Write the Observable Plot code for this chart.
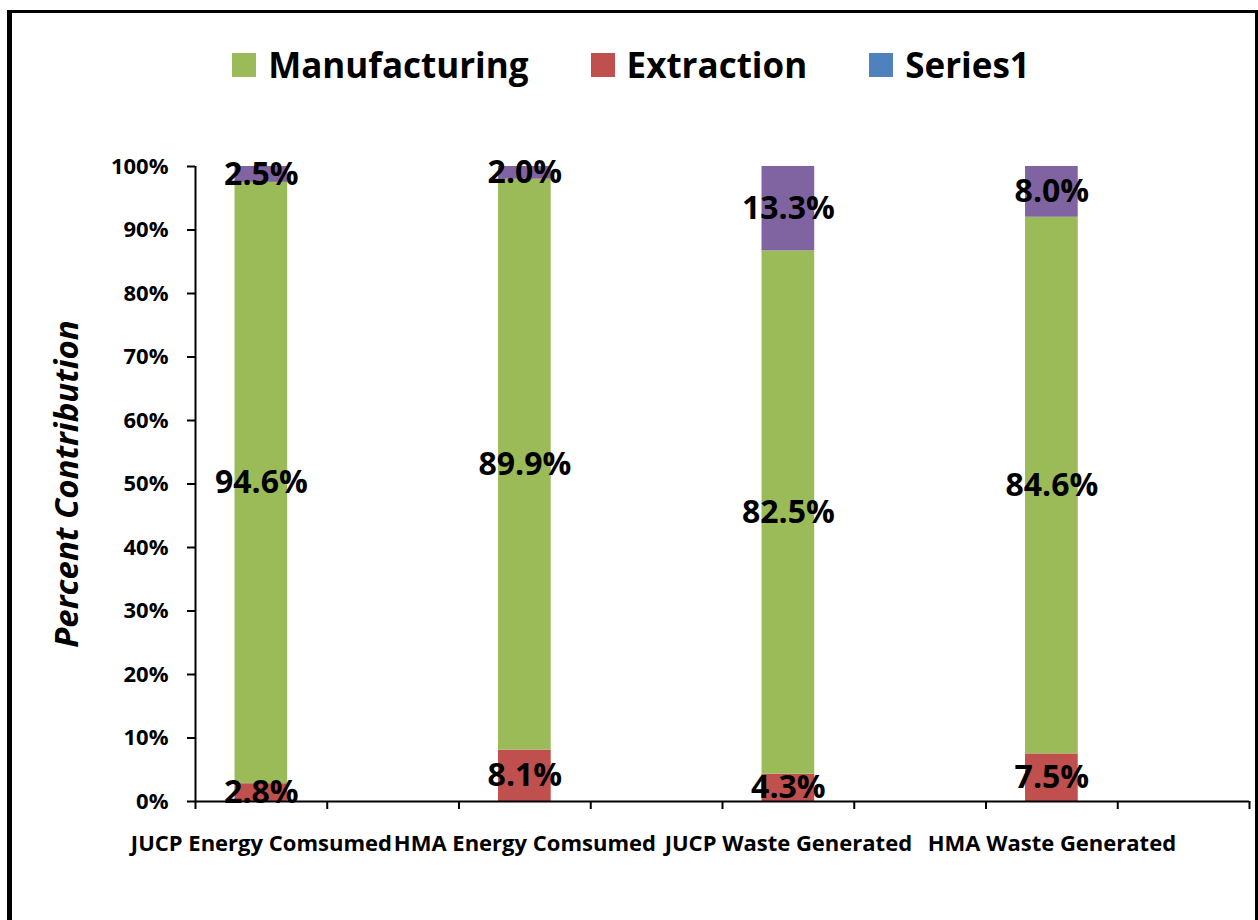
<!DOCTYPE html>
<html>
<head>
<meta charset="utf-8">
<script src="https://cdn.jsdelivr.net/npm/d3@7"></script>
<script src="https://cdn.jsdelivr.net/npm/@observablehq/plot@0.6"></script>
<style>
  html, body { margin: 0; padding: 0; background: #fff; }
  body { width: 1258px; height: 920px; position: relative; overflow: hidden; font-family: "Open Sans", Lato, sans-serif; }
  #frame { position: absolute; left: 7px; top: 10px; width: 1243px; height: 960px;
           border-left: 5px solid #000; border-top: 3px solid #000; border-right: 3px solid #000; }
  #legend { position: absolute; left: 0; width: 1262px; top: 42px; display: flex; justify-content: center;
            align-items: center; gap: 62px; font-weight: bold; font-size: 35px; color: #000; line-height: 46px; }
  #legend .item { display: flex; align-items: center; }
  #legend .swatch { width: 24px; height: 24px; margin-right: 12px; }
  #chart { position: absolute; left: 0; top: 100px; }
</style>
</head>
<body>
<div id="frame"></div>
<div id="legend"></div>
<div id="chart"></div>
<script>
// Category slots along the x axis: every named category is followed by an empty slot.
const categories = ["JUCP Energy Comsumed", "", "HMA Energy Comsumed", "", "JUCP Waste Generated", "", "HMA Waste Generated", ""];

// Share of each stage (%) for the named categories, in slot order.
const extraction    = [2.8, 8.1, 4.3, 7.5];
const manufacturing = [94.6, 89.9, 82.5, 84.6];
const series1       = [2.5, 2.0, 13.3, 8.0];

// Stack order (bottom to top) and bar colours.
const seriesNames  = ["Extraction", "Manufacturing", "Series1"];
const seriesColors = ["#C0504D", "#9BBB59", "#8064A2"];

// Legend entries as shown above the chart.
const legendNames  = ["Manufacturing", "Extraction", "Series1"];
const legendColors = ["#9BBB59", "#C0504D", "#4F81BD"];

const yTicks = [0, 0.1, 0.2, 0.3, 0.4, 0.5, 0.6, 0.7, 0.8, 0.9, 1];

// Build the long table
const slots = categories.map((c, i) => ({name: c, slot: i})).filter(d => d.name !== "");
const seriesValues = [extraction, manufacturing, series1];
const rows = [];
slots.forEach((s, i) => {
  seriesNames.forEach((name, k) => {
    rows.push({category: s.name, slot: s.slot, series: name, value: seriesValues[k][i]});
  });
});

// Legend
const legend = document.getElementById("legend");
legendNames.forEach((n, i) => {
  const item = document.createElement("div");
  item.className = "item";
  const sw = document.createElement("div");
  sw.className = "swatch";
  sw.style.background = legendColors[i];
  const label = document.createElement("span");
  label.textContent = n;
  item.appendChild(sw);
  item.appendChild(label);
  legend.appendChild(item);
});

const chart = Plot.plot({
  width: 1258,
  height: 800,
  marginLeft: 195,
  marginRight: 9,
  marginTop: 66,
  marginBottom: 99,
  style: {fontFamily: "'Open Sans', Lato, sans-serif", color: "#000", background: "transparent"},
  x: {type: "linear", domain: [0, categories.length]},
  y: {domain: [0, 1]},
  color: {domain: seriesNames, range: seriesColors},
  marks: [
    Plot.rectY(rows, Plot.stackY({
      x1: d => d.slot + 0.3,
      x2: d => d.slot + 0.7,
      y: "value",
      fill: "series",
      offset: "normalize"
    })),
    // axis lines
    Plot.ruleY([0], {stroke: "#000", strokeWidth: 2}),
    Plot.ruleX([0], {stroke: "#000", strokeWidth: 2}),
    // y axis ticks and labels
    Plot.axisY({
      ticks: yTicks,
      tickFormat: d3.format(".0%"),
      tickSize: 8,
      tickPadding: 19,
      fontSize: 22,
      fontWeight: "bold",
      stroke: "#000",
      strokeWidth: 2,
      label: null
    }),
    // x axis tick marks at slot boundaries
    Plot.axisX({
      ticks: d3.range(categories.length + 1),
      tickSize: 8,
      tickFormat: () => "",
      stroke: "#000",
      strokeWidth: 2,
      label: null
    }),
    // category labels centred on their slots
    Plot.axisX({
      ticks: slots.map(s => s.slot + 0.5),
      tickSize: 0,
      tickPadding: 34,
      tickFormat: d => categories[Math.floor(d)],
      fontSize: 22,
      fontWeight: "bold",
      label: null
    }),
    // value labels at the centre of each segment
    Plot.text(rows, Plot.stackY({
      x: d => d.slot + 0.5,
      y: "value",
      text: d => d.value.toFixed(1) + "%",
      offset: "normalize",
      fontSize: 32,
      fontWeight: "bold",
      fill: "#000"
    })),
    // y axis title
    Plot.text(["Percent Contribution"], {
      frameAnchor: "left",
      dx: -128,
      rotate: -90,
      textAnchor: "middle",
      text: d => d,
      fontSize: 33,
      fontWeight: "bold",
      fontStyle: "italic",
      fill: "#000"
    })
  ]
});
document.getElementById("chart").appendChild(chart);
</script>
</body>
</html>
